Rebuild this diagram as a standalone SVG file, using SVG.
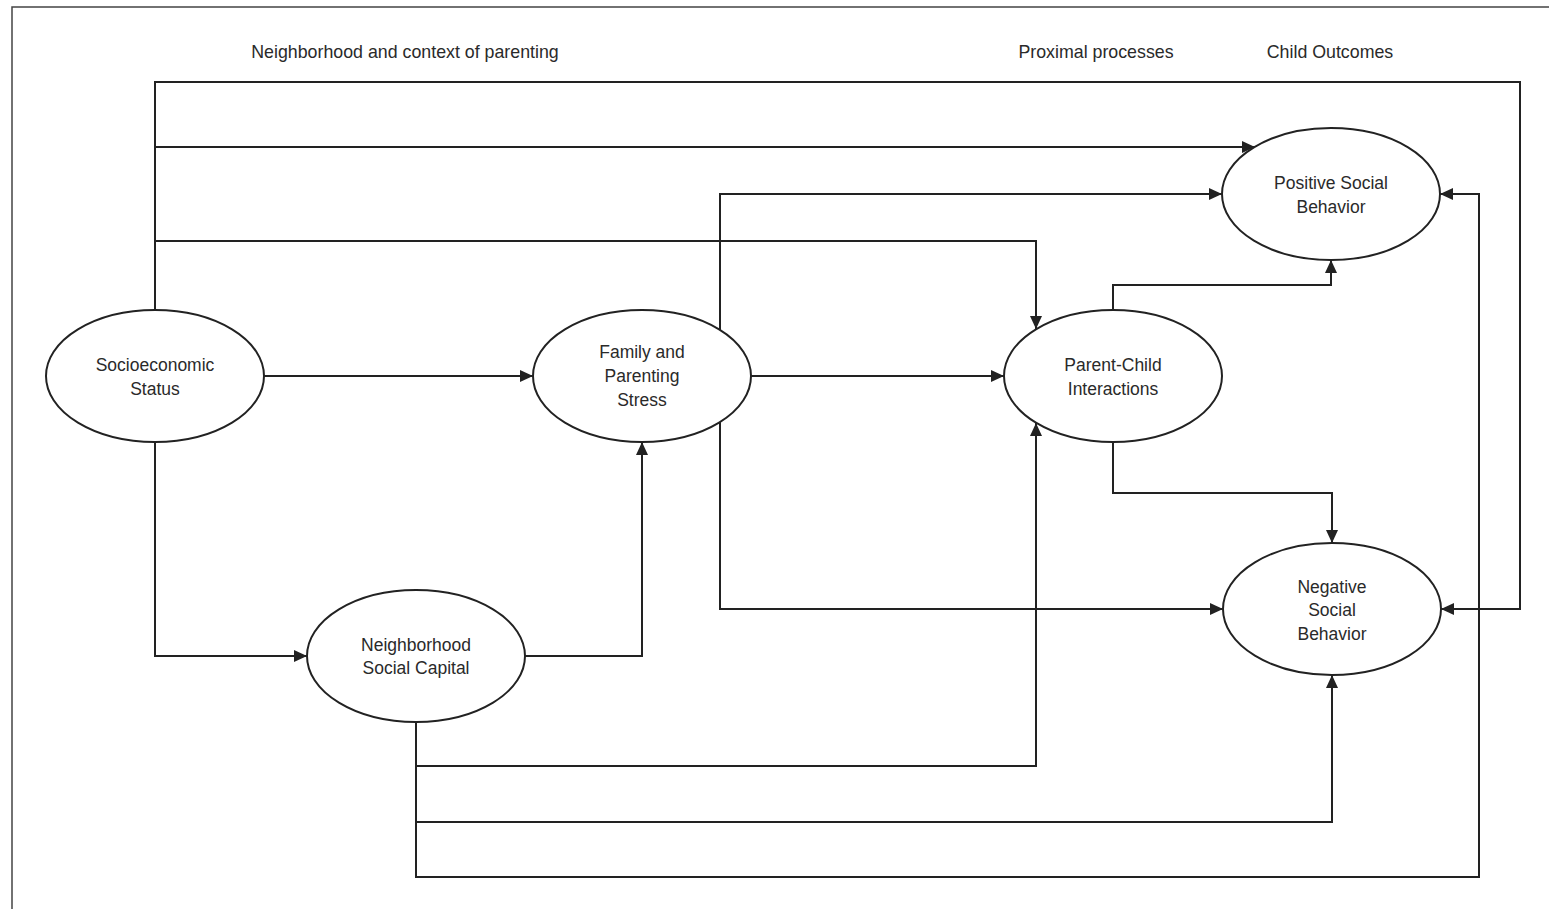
<svg xmlns="http://www.w3.org/2000/svg" width="1549" height="909" viewBox="0 0 1549 909">
<style>
.n{fill:#fff;stroke:#222;stroke-width:2}
.t{font-family:"Liberation Sans",Arial,sans-serif;font-size:17.5px;fill:#2a2a2a;text-anchor:middle}
.h{font-family:"Liberation Sans",Arial,sans-serif;font-size:17.8px;fill:#2a2a2a;text-anchor:middle}
.c{fill:none;stroke:#222;stroke-width:2;marker-end:url(#a)}
.f{fill:none;stroke:#444;stroke-width:1.5}
</style>
<defs>
<marker id="a" markerUnits="userSpaceOnUse" markerWidth="14" markerHeight="12" refX="13" refY="6" orient="auto">
<path d="M0,0 L13,6 L0,12 Z" fill="#222"/>
</marker>
</defs>
<rect width="1549" height="909" fill="#fff"/>
<path class="f" d="M12,909 V7 H1549"/>
<g id="headers">
<text class="h" x="405" y="58">Neighborhood and context of parenting</text>
<text class="h" x="1096" y="58">Proximal processes</text>
<text class="h" x="1330" y="58">Child Outcomes</text>
</g>
<g id="connectors">
<path class="c" d="M155,310 V82 H1520 V609 H1441"/>
<path class="c" d="M155,147 H1255"/>
<path class="c" d="M155,241 H1036 V329"/>
<path class="c" d="M264,376 H533"/>
<path class="c" d="M155,442 V656 H307"/>
<path class="c" d="M525,656 H642 V442"/>
<path class="c" d="M720,330 V194 H1222"/>
<path class="c" d="M751,376 H1004"/>
<path class="c" d="M720,422 V609 H1223"/>
<path class="c" d="M1113,310 V285 H1331 V260"/>
<path class="c" d="M1113,442 V493 H1332 V543"/>
<path class="c" d="M416,722 V766 H1036 V423"/>
<path class="c" d="M416,766 V822 H1332 V675"/>
<path class="c" d="M416,822 V877 H1479 V194 H1440"/>
</g>
<g id="ses">
<ellipse class="n" cx="155" cy="376" rx="109" ry="66"/>
<text class="t" x="155" y="371">Socioeconomic</text>
<text class="t" x="155" y="395">Status</text>
</g>
<g id="family">
<ellipse class="n" cx="642" cy="376" rx="109" ry="66"/>
<text class="t" x="642" y="358">Family and</text>
<text class="t" x="642" y="382">Parenting</text>
<text class="t" x="642" y="406">Stress</text>
</g>
<g id="parentchild">
<ellipse class="n" cx="1113" cy="376" rx="109" ry="66"/>
<text class="t" x="1113" y="371">Parent-Child</text>
<text class="t" x="1113" y="395">Interactions</text>
</g>
<g id="positive">
<ellipse class="n" cx="1331" cy="194" rx="109" ry="66"/>
<text class="t" x="1331" y="189">Positive Social</text>
<text class="t" x="1331" y="213">Behavior</text>
</g>
<g id="negative">
<ellipse class="n" cx="1332" cy="609" rx="109" ry="66"/>
<text class="t" x="1332" y="593">Negative</text>
<text class="t" x="1332" y="616">Social</text>
<text class="t" x="1332" y="640">Behavior</text>
</g>
<g id="neighborhood">
<ellipse class="n" cx="416" cy="656" rx="109" ry="66"/>
<text class="t" x="416" y="651">Neighborhood</text>
<text class="t" x="416" y="674">Social Capital</text>
</g>
</svg>
